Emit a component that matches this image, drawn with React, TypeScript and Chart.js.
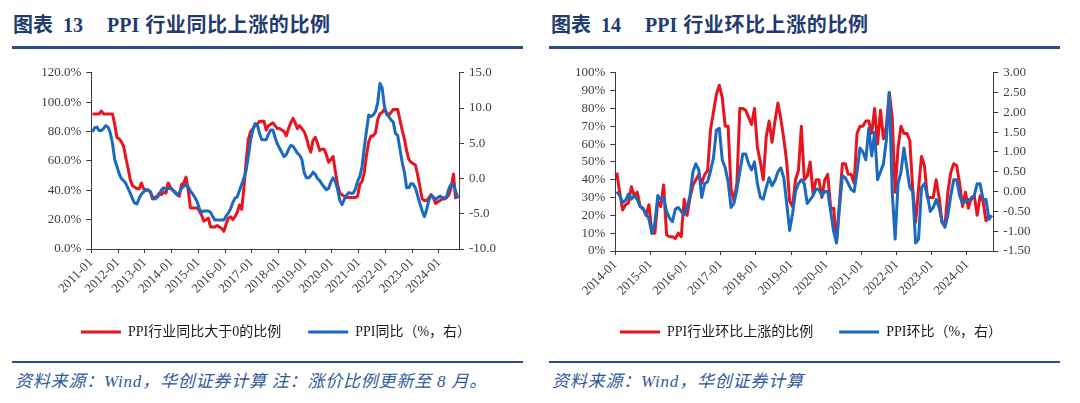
import React, { useEffect, useRef } from 'react';
import { Chart, registerables } from 'chart.js';

Chart.register(...registerables);

// ---------- data: Figure 13 (monthly, 2011-01 .. 2024-09) ----------
const yoyTickLabels = ['2011-01', '2012-01', '2013-01', '2014-01', '2015-01', '2016-01', '2017-01', '2018-01', '2019-01', '2020-01', '2021-01', '2022-01', '2023-01', '2024-01'];
const yoyMonthCount = 165;
// share of PPI industries with YoY > 0 (%), 2011-01 .. 2024-08
const yoyShare = [
  92, 92, 92, 92, 94, 92, 92, 92, 92, 92, 85, 76,
  75, 73, 70, 62, 55, 47, 43, 42, 41, 41, 45, 41,
  40, 40, 39, 34, 35, 36, 38, 37, 39, 38, 45, 42,
  40, 39, 37, 36, 44, 45, 49, 40, 28, 28, 28, 28,
  26, 23, 19, 20, 21, 15, 15, 15, 16, 15, 14, 12,
  17, 21, 22, 20, 22, 25, 30, 27, 42, 60, 75, 80,
  82, 84, 85, 87, 87, 87, 81, 84, 85, 86, 84, 82,
  82, 81, 80, 77, 82, 86, 89, 86, 82, 84, 82, 80,
  76, 70, 66, 74, 76, 72, 67, 68, 68, 64, 59, 61,
  63, 53, 44, 38, 37, 36, 35, 35, 35, 35, 35, 36,
  44, 46, 52, 64, 73, 77, 77, 79, 88, 92, 93, 95,
  93, 91, 93, 95, 95, 95, 88, 81, 75, 67, 61, 59,
  58, 57, 50, 42, 34, 33, 33, 35, 37, 35, 31, 32,
  33, 34, 34, 35, 37, 42, 51, 34,
];
// PPI YoY (%), 2011-01 .. 2024-09
const ppiYoY = [
  6.6, 7.2, 7.3, 6.8, 6.8, 7.1, 7.5, 7.3, 6.5, 5.0, 2.7, 1.7,
  0.7, 0.0, -0.3, -0.7, -1.4, -2.1, -2.9, -3.5, -3.6, -2.8, -2.2, -1.9,
  -1.6, -1.6, -1.9, -2.6, -2.9, -2.7, -2.3, -1.6, -1.3, -1.5, -1.4, -1.4,
  -1.6, -2.0, -2.3, -2.0, -1.4, -1.1, -0.9, -1.2, -1.8, -2.2, -2.7, -3.3,
  -4.3, -4.8, -4.6, -4.6, -4.6, -4.8, -5.4, -5.9, -5.9, -5.9, -5.9, -5.9,
  -5.3, -4.9, -4.3, -3.4, -2.8, -2.6, -1.7, -0.8, 0.1, 1.2, 3.3, 5.5,
  6.9, 7.8, 7.6, 6.4, 5.5, 5.5, 5.5, 6.3, 6.9, 6.9, 5.8, 4.9,
  4.3, 3.7, 3.1, 3.4, 4.1, 4.7, 4.6, 4.1, 3.6, 3.3, 2.7, 0.9,
  0.1, 0.1, 0.4, 0.9, 0.6, 0.0, -0.3, -0.8, -1.2, -1.6, -1.4, -0.5,
  0.1, -0.4, -1.5, -3.1, -3.7, -3.0, -2.4, -2.0, -2.1, -2.1, -1.5, -0.4,
  0.3, 1.7, 4.4, 6.8, 9.0, 8.8, 9.0, 9.5, 10.7, 13.5, 12.9, 10.3,
  9.1, 8.8, 8.3, 8.0, 6.4, 6.1, 4.2, 2.3, 0.9, -1.3, -1.3, -0.7,
  -0.8, -1.4, -2.5, -3.6, -4.6, -5.4, -4.4, -3.0, -2.5, -2.6, -3.0, -2.7,
  -2.5, -2.7, -2.8, -2.5, -1.4, -0.8, -0.8, -1.8, -2.8,
];
const yoyLeftTicks = [0, 20, 40, 60, 80, 100, 120];
const yoyRightTicks = [-10, -5, 0, 5, 10, 15];

// ---------- data: Figure 14 (monthly, 2014-01 .. 2024-09) ----------
const momTickLabels = ['2014-01', '2015-01', '2016-01', '2017-01', '2018-01', '2019-01', '2020-01', '2021-01', '2022-01', '2023-01', '2024-01'];
const momMonthCount = 129;
// share of PPI industries with MoM rise (%), 2014-01 .. 2024-08
const momShare = [
  44, 33, 23, 26, 27, 36, 31, 33, 25, 24, 20, 26,
  10, 10, 28, 25, 37, 9, 8, 8, 7, 10, 8, 29,
  20, 30, 37, 40, 43, 38, 43, 45, 68, 78, 88, 93,
  86, 70, 70, 35, 28, 38, 80, 80, 79, 75, 71, 80,
  58, 50, 40, 64, 73, 61, 73, 83, 74, 63, 50, 28,
  25, 40, 45, 70, 40, 42, 50, 32, 40, 40, 30, 40,
  43, 24, 24, 5, 27, 49, 49, 43, 43, 38, 66, 70,
  70, 73, 73, 66, 80, 60, 79, 63, 70, 89, 75, 33,
  58, 70, 66, 66, 62, 35, 16, 35, 53, 48, 30, 30,
  30, 40, 30, 16, 14, 33, 44, 49, 48, 38, 25, 33,
  24, 30, 31, 20, 31, 28, 17, 20,
];
// PPI MoM (%), 2014-01 .. 2024-09
const ppiMoM = [
  0.0, -0.1, -0.28, -0.22, -0.06, -0.19, -0.1, -0.2, -0.38, -0.44, -0.55, -0.7,
  -1.05, -0.8, -0.1, -0.2, -0.15, -0.5, -0.67, -0.76, -0.44, -0.4, -0.5, -0.58,
  -0.4, -0.1, 0.5, 0.7, 0.55, -0.15, 0.2, 0.25, 0.52, 0.85, 1.55, 1.6,
  0.8, 0.6, 0.25, -0.4, -0.3, 0.05, 0.5, 0.95, 0.95, 0.7, 0.55, 0.75,
  0.2, -0.15, -0.19, 0.1, 0.35, 0.15, 0.28, 0.5, 0.6, 0.35, -0.3, -0.98,
  -0.55, 0.0, 0.2, 0.3, 0.2, -0.3, -0.2, -0.1, 0.07, 0.05, -0.1, 0.0,
  0.0, -0.5, -1.0, -1.3, -0.4, 0.4, 0.35, 0.2, 0.05, 0.0, 0.5, 1.1,
  1.0, 0.8, 1.6, 0.9, 1.5, 0.3, 0.5, 0.7, 1.3, 2.5, 0.0, -1.2,
  0.2, 0.5, 1.1, 0.6, 0.1, 0.0, -1.3, -1.2, 0.1, 0.2, -0.1, -0.5,
  -0.4, -0.2, -0.4, -0.75, -0.9, -0.6, -0.1, 0.3, 0.3, -0.1, -0.3, -0.25,
  -0.2, -0.2, -0.1, 0.2, 0.2, -0.2, -0.2, -0.7, -0.6,
];
const momLeftTicks = [0, 10, 20, 30, 40, 50, 60, 70, 80, 90, 100];
const momRightTicks = [-1.5, -1.0, -0.5, 0.0, 0.5, 1.0, 1.5, 2.0, 2.5, 3.0];

// ---------- style ----------
const RED = '#E8141E';
const BLUE = '#1A6AC0';
const AXIS = '#3c3c3c';
const TICKTEXT = '#404040';
const TITLE = '#1F3B70';
const RULE = '#2C4F8C';
const NOTE = '#2F5A9A';
const SERIF = '"Liberation Serif", "Times New Roman", "Noto Sans CJK SC", serif';

type PanelProps = {
  left: number; top: number; width: number; height: number;
  padTop: number; leftW: number; rightW: number; xH: number; legendPad: number;
  count: number; tickLabels: string[];
  share: number[]; ppi: number[];
  shareLabel: string; ppiLabel: string;
  leftTicks: number[]; rightTicks: number[];
  leftFmt: (v: number) => string; rightFmt: (v: number) => string;
};

function Panel(p: PanelProps) {
  const ref = useRef<HTMLCanvasElement | null>(null);
  useEffect(() => {
    if (!ref.current) return;
    const tickFont = { family: SERIF, size: 13 };
    const axisGrid = { display: true, drawOnChartArea: false, drawTicks: true, tickLength: 5, color: AXIS, lineWidth: 1 };
    const axisBorder = { display: true, color: AXIS, width: 1 };
    const chart = new Chart(ref.current, {
      type: 'line',
      data: {
        datasets: [
          {
            label: p.shareLabel,
            data: p.share.map((v, i) => ({ x: i + 0.5, y: v })),
            yAxisID: 'y', borderColor: RED, backgroundColor: RED,
            borderWidth: 3, pointRadius: 0, tension: 0, order: 2,
            borderJoinStyle: 'round',
          },
          {
            label: p.ppiLabel,
            data: p.ppi.map((v, i) => ({ x: i + 0.5, y: v })),
            yAxisID: 'y1', borderColor: BLUE, backgroundColor: BLUE,
            borderWidth: 3, pointRadius: 0, tension: 0, order: 1,
            borderJoinStyle: 'round',
          },
        ],
      },
      options: {
        animation: false,
        responsive: false,
        maintainAspectRatio: false,
        layout: { padding: { top: p.padTop, left: 0, right: 0, bottom: 0 } },
        plugins: {
          tooltip: { enabled: false },
          legend: {
            display: true,
            position: 'bottom',
            labels: {
              boxWidth: 40,
              boxHeight: 3,
              padding: p.legendPad,
              color: '#1a1a1a',
              font: { family: SERIF, size: 14 },
              sort: (a: any, b: any) => a.datasetIndex - b.datasetIndex,
              generateLabels: (c: any) =>
                (Chart.defaults.plugins.legend.labels.generateLabels as any)(c).map((l: any) => ({
                  ...l, lineWidth: 0, fillStyle: l.strokeStyle,
                })),
            },
          },
        },
        scales: {
          x: {
            type: 'linear',
            min: 0,
            max: p.count,
            afterBuildTicks: (s: any) => {
              s.ticks = p.tickLabels.map((_, k) => ({ value: k * 12 }));
            },
            afterFit: (s: any) => { s.height = p.xH; },
            ticks: {
              autoSkip: false,
              maxRotation: 45,
              minRotation: 45,
              padding: 2,
              color: TICKTEXT,
              font: tickFont,
              callback: (v: any) => p.tickLabels[Math.round(Number(v) / 12)] ?? '',
            },
            grid: { ...axisGrid, tickLength: 4 },
            border: axisBorder,
          },
          y: {
            type: 'linear',
            position: 'left',
            min: p.leftTicks[0],
            max: p.leftTicks[p.leftTicks.length - 1],
            afterBuildTicks: (s: any) => { s.ticks = p.leftTicks.map((v) => ({ value: v })); },
            afterFit: (s: any) => { s.width = p.leftW; },
            ticks: { autoSkip: false, color: TICKTEXT, font: tickFont, padding: 5, callback: (v: any) => p.leftFmt(Number(v)) },
            grid: axisGrid,
            border: axisBorder,
          },
          y1: {
            type: 'linear',
            position: 'right',
            min: p.rightTicks[0],
            max: p.rightTicks[p.rightTicks.length - 1],
            afterBuildTicks: (s: any) => { s.ticks = p.rightTicks.map((v) => ({ value: v })); },
            afterFit: (s: any) => { s.width = p.rightW; },
            ticks: { autoSkip: false, color: TICKTEXT, font: tickFont, padding: 5, callback: (v: any) => p.rightFmt(Number(v)) },
            grid: axisGrid,
            border: axisBorder,
          },
        },
      } as any,
    });
    return () => chart.destroy();
  }, []);
  return (
    <canvas
      ref={ref}
      width={p.width}
      height={p.height}
      style={{ position: 'absolute', left: p.left, top: p.top, width: p.width, height: p.height }}
    />
  );
}

const titleStyle: React.CSSProperties = {
  position: 'absolute', top: 12, fontSize: 20, lineHeight: '26px', fontWeight: 'bold',
  color: TITLE, fontFamily: SERIF, whiteSpace: 'nowrap',
};
const noteStyle: React.CSSProperties = {
  position: 'absolute', top: 371, fontSize: 17, lineHeight: '22px', fontStyle: 'italic',
  color: NOTE, fontFamily: SERIF, whiteSpace: 'nowrap', letterSpacing: '0.8px',
};

function Rule({ left, top, width, h }: { left: number; top: number; width: number; h: number }) {
  return <div style={{ position: 'absolute', left, top, width, height: h, background: RULE }} />;
}

export default function App() {
  return (
    <div style={{ position: 'absolute', left: 0, top: 0, width: 1080, height: 403, background: '#fff', overflow: 'hidden' }}>
      {/* Figure 13 */}
      <div style={{ ...titleStyle, left: 13 }}>
        图表<span style={{ marginLeft: 10 }}>13</span>
        <span style={{ marginLeft: 24 }}>PPI</span>
        <span style={{ marginLeft: 6, letterSpacing: '0.6px' }}>行业同比上涨的比例</span>
      </div>
      <Rule left={12} top={46} width={511} h={3} />
      <Panel
        left={12} top={60} width={528} height={289}
        padTop={10.7} leftW={79.3} rightW={81} xH={49} legendPad={27}
        count={yoyMonthCount} tickLabels={yoyTickLabels}
        share={yoyShare} ppi={ppiYoY}
        shareLabel="PPI行业同比大于0的比例" ppiLabel="PPI同比（%，右）"
        leftTicks={yoyLeftTicks} rightTicks={yoyRightTicks}
        leftFmt={(v) => v.toFixed(1) + '%'} rightFmt={(v) => v.toFixed(1)}
      />
      <Rule left={12} top={361} width={511} h={2} />
      <div style={{ ...noteStyle, left: 15 }}>资料来源：Wind，华创证券计算 注：涨价比例更新至 8 月。</div>

      {/* Figure 14 */}
      <div style={{ ...titleStyle, left: 551 }}>
        图表<span style={{ marginLeft: 10 }}>14</span>
        <span style={{ marginLeft: 24 }}>PPI</span>
        <span style={{ marginLeft: 6, letterSpacing: '0.6px' }}>行业环比上涨的比例</span>
      </div>
      <Rule left={549} top={46} width={511} h={3} />
      <Panel
        left={549} top={60} width={524} height={289}
        padTop={10.7} leftW={66.3} rightW={79.7} xH={48} legendPad={26}
        count={momMonthCount} tickLabels={momTickLabels}
        share={momShare} ppi={ppiMoM}
        shareLabel="PPI行业环比上涨的比例" ppiLabel="PPI环比（%，右）"
        leftTicks={momLeftTicks} rightTicks={momRightTicks}
        leftFmt={(v) => Math.round(v) + '%'} rightFmt={(v) => v.toFixed(2)}
      />
      <Rule left={549} top={361} width={511} h={2} />
      <div style={{ ...noteStyle, left: 552 }}>资料来源：Wind，华创证券计算</div>
    </div>
  );
}
